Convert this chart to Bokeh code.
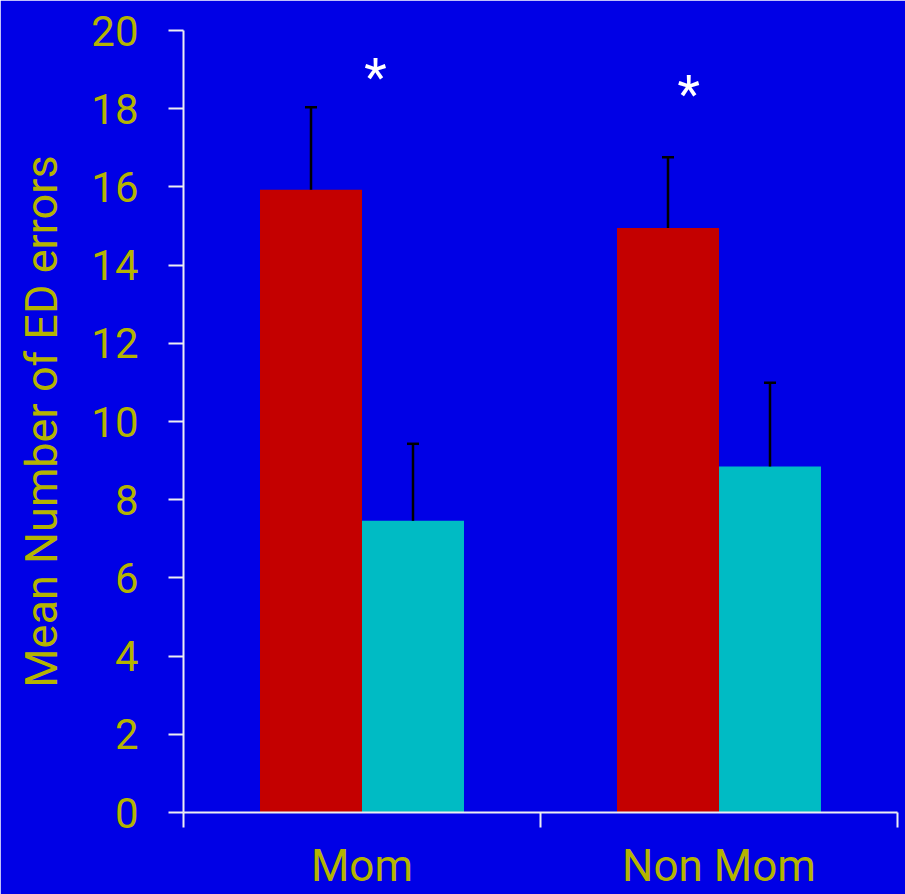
from bokeh.plotting import figure
from bokeh.models import ColumnDataSource, Range1d, FixedTicker, Whisker, TeeHead
from bokeh.core.properties import value
from bokeh.embed import file_html
from bokeh.resources import INLINE

# ---- data ----
categories = ["Mom", "Non Mom"]
red_means = [15.93, 14.95]
red_upper = [18.04, 16.76]
cyan_means = [7.46, 8.85]
cyan_upper = [9.43, 10.99]
sig_marks = ["*", "*"]
y_ticks = [0, 2, 4, 6, 8, 10, 12, 14, 16, 18, 20]

BG = "#0000E6"
RED = "#C40000"
CYAN = "#00BBC4"
TXT = "#B4B400"
AXC = "#EDEDF2"
FONT = "Roboto"

bar_w = 0.2857
idx = list(range(len(categories)))
centers = [i + 0.5 for i in idx]

red_src = ColumnDataSource(dict(
    x=[c - bar_w / 2 for c in centers], top=red_means, upper=red_upper))
cyan_src = ColumnDataSource(dict(
    x=[c + bar_w / 2 for c in centers], top=cyan_means, upper=cyan_upper))

p = figure(width=905, height=894, output_backend="svg", toolbar_location=None,
           x_range=Range1d(0, len(categories)), y_range=Range1d(0, 20),
           min_border_left=183, min_border_right=8, min_border_top=30, min_border_bottom=81)
p.background_fill_color = BG
p.border_fill_color = BG
p.outline_line_color = BG
p.outline_line_width = 2
p.xgrid.visible = False
p.ygrid.visible = False

p.vbar(x="x", top="top", bottom=0, width=bar_w, source=red_src, fill_color=RED, line_color=None)
p.vbar(x="x", top="top", bottom=0, width=bar_w, source=cyan_src, fill_color=CYAN, line_color=None)

for src in (red_src, cyan_src):
    w = Whisker(base="x", lower="top", upper="upper", source=src,
                line_color="black", line_width=2.5, lower_head=None,
                upper_head=TeeHead(size=12, line_color="black", line_width=2.5),
                level="annotation")
    p.add_layout(w)

# significance asterisks
sig_src = ColumnDataSource(dict(x=[0.538, 1.415], y=[18.80, 18.37], t=sig_marks))
p.text(x="x", y="y", text="t", source=sig_src, text_color="white",
       text_font=value(FONT), text_font_size="52px", text_align="center",
       text_baseline="alphabetic")

# y axis
yax = p.yaxis[0]
yax.ticker = FixedTicker(ticks=y_ticks)
yax.minor_tick_line_color = None
yax.major_tick_in = 0
yax.major_tick_out = 15
yax.major_tick_line_color = AXC
yax.major_tick_line_width = 2
yax.axis_line_color = AXC
yax.axis_line_width = 2
yax.major_label_text_color = TXT
yax.major_label_text_font = FONT
yax.major_label_text_font_size = "42px"
yax.major_label_standoff = 30
yax.axis_label = "Mean Number of ED errors"
yax.axis_label_text_color = TXT
yax.axis_label_text_font = FONT
yax.axis_label_text_font_size = "45px"
yax.axis_label_text_font_style = "normal"
yax.axis_label_standoff = 20

# x axis: labels at category centres, tick marks at category boundaries
xax = p.xaxis[0]
xax.ticker = FixedTicker(ticks=centers, minor_ticks=[0, 1, 2])
xax.major_label_overrides = {c: name for c, name in zip(centers, categories)}
xax.major_tick_line_color = None
xax.major_tick_in = 0
xax.major_tick_out = 15
xax.minor_tick_in = 0
xax.minor_tick_out = 15
xax.minor_tick_line_color = AXC
xax.minor_tick_line_width = 2
xax.axis_line_color = AXC
xax.axis_line_width = 2
xax.major_label_text_color = TXT
xax.major_label_text_font = FONT
xax.major_label_text_font_size = "44px"
xax.major_label_standoff = 12

open("out.html", "w").write(file_html(p, INLINE))
